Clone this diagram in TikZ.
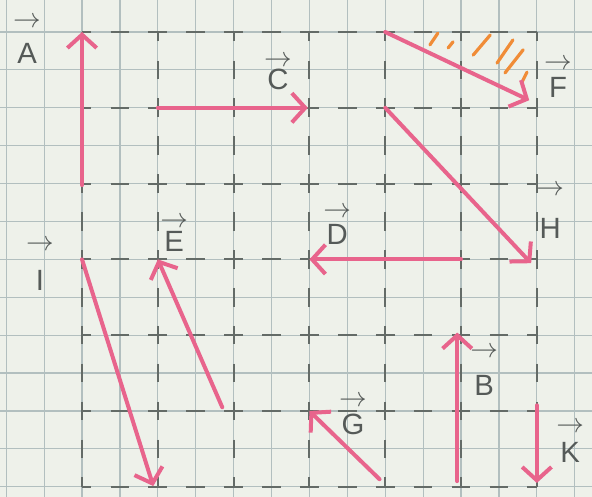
\documentclass[tikz,border=0pt]{standalone}
\usepackage{fontspec}
\setmainfont{Liberation Sans}
\usetikzlibrary{arrows.meta}
\definecolor{paper}{RGB}{238,241,234}
\definecolor{finec}{RGB}{178,191,191}
\definecolor{dashc}{RGB}{100,107,103}
\definecolor{pinkc}{RGB}{232,100,140}
\definecolor{hatchc}{RGB}{240,140,55}
\definecolor{inkc}{RGB}{85,90,88}
\newcommand{\vlab}[2]{\ooalign{\hidewidth\raisebox{#1}{$\rightarrow$}\hidewidth\cr#2\cr}}
\tikzset{
  fineline/.style={draw=finec, line width=0.9pt},
  dashline/.style={draw=dashc, line width=1.6pt, dash pattern=on 14pt off 14.45pt, dash phase=7pt},
  vec/.style={draw=pinkc, line width=3pt, line cap=round, -{Straight Barb[length=10pt,width=22pt]}},
  hatch/.style={draw=hatchc, line width=2.4pt, line cap=round},
  lab/.style={anchor=base, text=inkc, inner sep=0pt, font=\fontsize{22}{26}\selectfont}
}
\begin{document}
\begin{tikzpicture}
\useasboundingbox (-2.164,0.844) rectangle (13.456,-12.269);
\fill[paper] (-2.164,0.844) rectangle (13.456,-12.269);
\begin{scope}
\clip (-2.164,0.844) rectangle (13.456,-12.269);
\draw[fineline] (-3,-13) grid (14,2);
\end{scope}
\foreach \i in {0,2,...,12} {
  \draw[dashline] (\i,0) -- (\i,-12);
  \draw[dashline] (0,-\i) -- (12,-\i);
}
% hatching
\draw[hatch] (9.18,-0.34) -- (9.39,-0.03);
\draw[hatch] (9.66,-0.42) -- (9.79,-0.26);
\draw[hatch] (10.32,-0.61) -- (10.77,-0.08);
\draw[hatch] (10.95,-0.82) -- (11.37,-0.21);
\draw[hatch] (11.16,-1.08) -- (11.64,-0.47);
\draw[hatch] (11.61,-1.32) -- (11.74,-1.06);
% endpoints
\coordinate (a0) at (0,-4.04);   \coordinate (a1) at (0,0);
\coordinate (c0) at (2,-2);      \coordinate (c1) at (5.96,-2);
\coordinate (f0) at (8,0);       \coordinate (f1) at (11.8,-1.8);
\coordinate (h0) at (8,-2);      \coordinate (h1) at (11.85,-6.1);
\coordinate (d0) at (10,-6);     \coordinate (d1) at (6,-6);
\coordinate (e0) at (3.7,-9.9);  \coordinate (e1) at (2,-6);
\coordinate (i0) at (0,-6);      \coordinate (i1) at (1.88,-11.98);
\coordinate (g0) at (7.85,-11.8);\coordinate (g1) at (6,-10);
\coordinate (b0) at (9.9,-11.85);\coordinate (b1) at (9.9,-7.93);
\coordinate (k0) at (12,-9.85);  \coordinate (k1) at (12,-11.9);
\draw[vec] (a0) -- (a1);
\draw[vec] (c0) -- (c1);
\draw[vec] (f0) -- (f1);
\draw[vec] (h0) -- (h1);
\draw[vec] (d0) -- (d1);
\draw[vec] (e0) -- (e1);
\draw[vec] (i0) -- (i1);
\draw[vec] (g0) -- (g1);
\draw[vec] (b0) -- (b1);
\draw[vec] (k0) -- (k1);
% labels
\node[lab] (la) at (-1.45,-0.82) {\vlab{27pt}{A}};
\node[lab] (lc) at (5.17,-1.53) {\vlab{18pt}{C}};
\node[lab] (lf) at (12.56,-1.74) {\vlab{21pt}{F}};
\node[lab] (lh) at (12.35,-5.44) {\vlab{32pt}{H}};
\node[lab] (ld) at (6.73,-5.62) {\vlab{21pt}{D}};
\node[lab] (le) at (2.43,-5.80) {\vlab{18pt}{E}};
\node[lab] (li) at (-1.11,-6.81) {\vlab{30pt}{I}};
\node[lab] (lg) at (7.15,-10.63) {\vlab{21pt}{G}};
\node[lab] (lb) at (10.61,-9.58) {\vlab{28pt}{B}};
\node[lab] (lk) at (12.88,-11.37) {\vlab{23pt}{K}};
\end{tikzpicture}
\end{document}
